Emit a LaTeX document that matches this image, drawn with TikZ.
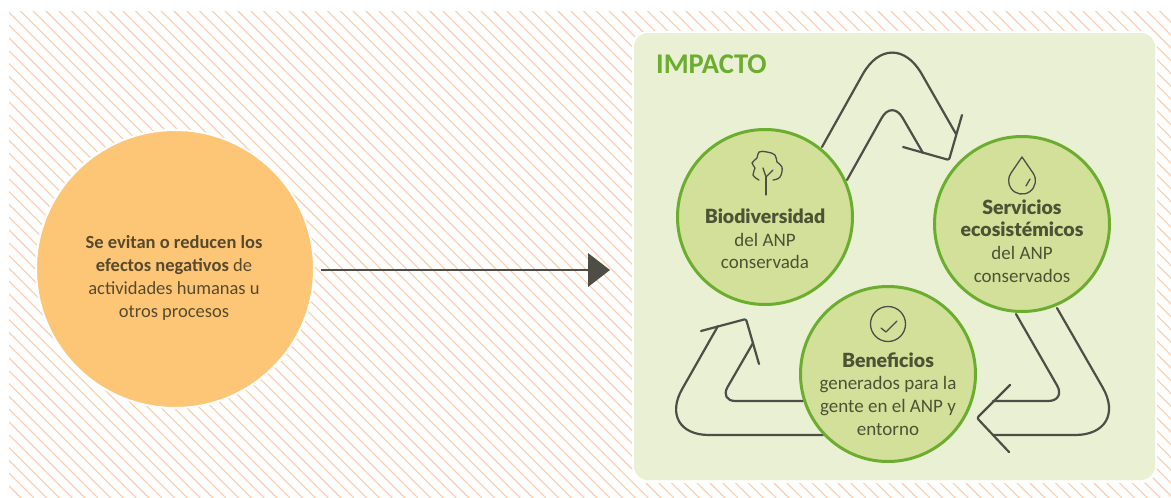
\documentclass[tikz,border=0pt]{standalone}
\usepackage{fontspec}
\setmainfont{Carlito}
\newfontfamily\heavy{Lato Black}
\definecolor{hatch}{HTML}{F8CDB0}
\definecolor{panel}{HTML}{E9F0D3}
\definecolor{disc}{HTML}{D2E09A}
\definecolor{rim}{HTML}{6BAD2F}
\definecolor{orange}{HTML}{FDC677}
\definecolor{ink}{HTML}{4E4E46}
\definecolor{gtext}{HTML}{4C5233}
\definecolor{otext}{HTML}{574A2C}
\tikzset{
  x=1pt,y=-1pt,
  loop/.style={draw=ink,line width=2.2pt,line join=round,line cap=round},
  icon/.style={draw=ink,line width=1.3pt,line cap=round,line join=round},
  greendisc/.style={circle,draw=rim,line width=3pt,fill=disc,minimum size=175pt,inner sep=0pt},
  lbl/.style={align=center,text=gtext,font=\fontsize{19}{22.7}\selectfont,inner sep=0pt},
}
\newcommand{\hv}[1]{{\heavy\fontsize{19.5}{22.7}\selectfont #1}}
\begin{document}
\begin{tikzpicture}
\useasboundingbox (0,0) rectangle (1171,498);
\fill[white] (0,0) rectangle (1171,498);
\begin{scope}
\clip (9,11) rectangle (1171,498);
\foreach \k in {-40,...,92}
  \draw[hatch,line width=1.1pt] ({9.4+\k*12.8},0) -- ({509.4+\k*12.8},500);
\end{scope}
% panel
\fill[white,rounded corners=16pt] (632,31) rectangle (1157,483);
\fill[panel,rounded corners=14pt] (634,33) rectangle (1155,480);
\node[anchor=base west,text=rim,inner sep=0pt,font=\fontsize{28.5}{28.5}\selectfont\bfseries] (title) at (656,73) {IMPACTO};
% left disc
\node[circle,fill=orange,draw=white,line width=2pt,minimum size=278pt,inner sep=0pt] (cause) at (175,269) {};
\node[align=center,text=otext,inner sep=0pt,font=\fontsize{18.5}{22.7}\selectfont] (causetext) at (174,278)
  {\textbf{Se evitan o reducen los}\\\textbf{efectos negativos} de\\actividades humanas u\\otros procesos};
\coordinate (a0) at (321,270);
\coordinate (a1) at (589,270);
\draw[ink,line width=2.4pt] (a0) -- (a1);
\fill[ink] (588,253) -- (610,270) -- (588,287) -- cycle;
% loop arrows
\draw[loop,rounded corners=60pt] (822,147) -- (892,22) -- (956,134);
\draw[loop,rounded corners=21pt] (847,180) -- (892,99.5) -- (923,153);
\draw[loop,rounded corners=2pt] (962,115) -- (949,160) -- (903,147);
\draw[loop,rounded corners=55pt] (1057,308) -- (1130,435) -- (993,435);
\draw[loop,rounded corners=18pt] (1016,314) -- (1066,401) -- (993,401);
\draw[loop,rounded corners=2pt] (1010,385) -- (977,418) -- (1009,452);
\draw[loop,rounded corners=53pt] (823,435) -- (656,435) -- (718,326);
\draw[loop,rounded corners=16pt] (803,401) -- (719.5,401) -- (753,343);
\draw[loop,rounded corners=2pt] (701,331) -- (746,319) -- (759,364);
% discs
\node[greendisc] (bio) at (765,217) {};
\node[greendisc] (serv) at (1022,224) {};
\node[greendisc] (ben) at (888,374) {};
% tree
\draw[icon,smooth,tension=.7] plot coordinates {(759,180) (753,175) (755,168) (752,163) (757,158) (759,152) (767,152) (775,155) (777,162) (782,167) (780,177) (773,180)};
\draw[icon] (766,195) -- (766,177);
\draw[icon] (763,168) -- (766,177) -- (773,170);
% drop
\draw[icon] (1022,157) -- (1033,173) arc[start angle=-35,end angle=215,radius=13.4] -- cycle;
\draw[icon] (1030,179) -- (1026,186);
% check
\draw[icon] (888,324) circle[radius=17.5];
\draw[icon] (881,328) -- (886,332) -- (897,321);
% labels
\node[lbl] (biot) at (765,239) {\hv{Biodiversidad}\\del ANP\\conservada};
\node[lbl] (servt) at (1022,241) {\hv{Servicios}\\\hv{ecosistémicos}\\del ANP\\conservados};
\node[lbl] (bent) at (888,394) {\hv{Beneficios}\\generados para la\\gente en el ANP y\\entorno};
\end{tikzpicture}
\end{document}
